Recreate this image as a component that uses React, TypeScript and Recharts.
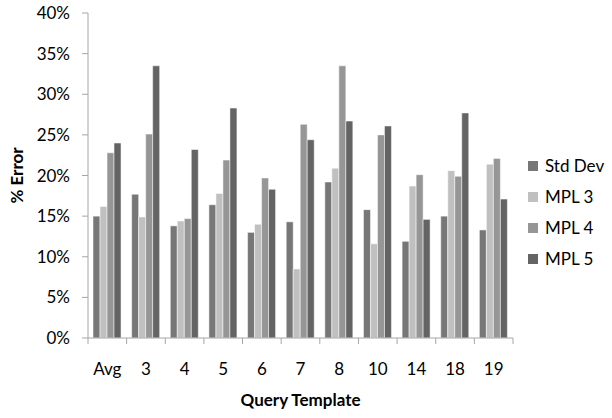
import { Bar, BarChart, Legend, XAxis, YAxis } from 'recharts';

const CATEGORIES = ['Avg', '3', '4', '5', '6', '7', '8', '10', '14', '18', '19'];
const STD_DEV = [15.0, 17.7, 13.8, 16.4, 13.0, 14.3, 19.2, 15.8, 11.9, 15.0, 13.3];
const MPL_3 = [16.2, 14.9, 14.4, 17.8, 14.0, 8.5, 20.9, 11.6, 18.7, 20.6, 21.4];
const MPL_4 = [22.8, 25.1, 14.7, 21.9, 19.7, 26.3, 33.5, 25.0, 20.1, 19.9, 22.1];
const MPL_5 = [24.0, 33.5, 23.2, 28.3, 18.3, 24.4, 26.7, 26.1, 14.6, 27.7, 17.1];
const Y_TICKS = [0, 5, 10, 15, 20, 25, 30, 35, 40];

const SERIES = [
  { key: 'stdDev', name: 'Std Dev', color: '#777777' },
  { key: 'mpl3', name: 'MPL 3', color: '#c0c0c0' },
  { key: 'mpl4', name: 'MPL 4', color: '#969696' },
  { key: 'mpl5', name: 'MPL 5', color: '#646464' },
];

const FONT = 'Lato, "Open Sans", sans-serif';
const AXIS_GRAY = '#a6a6a6';

const data = CATEGORIES.map((cat, i) => ({
  cat,
  stdDev: STD_DEV[i],
  mpl3: MPL_3[i],
  mpl4: MPL_4[i],
  mpl5: MPL_5[i],
}));

// Excel puts the category tick marks between groups, so draw them at the band edges.
function CategoryTick(props: any) {
  const { x, y, payload, index } = props;
  const half = payload.offset ?? 0;
  const last = index === CATEGORIES.length - 1;
  return (
    <g>
      <line x1={x - half} x2={x - half} y1={y - 8} y2={y - 2} stroke={AXIS_GRAY} />
      {last && <line x1={x + half} x2={x + half} y1={y - 8} y2={y - 2} stroke={AXIS_GRAY} />}
      <text x={x} y={y + 29} textAnchor="middle" fontSize={17} fill="#000" fontFamily={FONT}>
        {payload.value}
      </text>
    </g>
  );
}

function LegendBox() {
  return (
    <div style={{ fontFamily: FONT, fontSize: 17 }}>
      {SERIES.map((s) => (
        <div key={s.key} style={{ height: 31, display: 'flex', alignItems: 'center' }}>
          <span
            style={{ width: 10, height: 10, background: s.color, marginRight: 7, display: 'inline-block' }}
          />
          <span>{s.name}</span>
        </div>
      ))}
    </div>
  );
}

export default function App() {
  return (
    <div style={{ position: 'absolute', left: 0, top: 0, width: 612, height: 418, background: '#fff' }}>
      <BarChart
        width={612}
        height={418}
        data={data}
        margin={{ top: 13, right: 99, left: 0, bottom: 0 }}
        barCategoryGap="13%"
        barGap={0}
      >
        <XAxis
          dataKey="cat"
          stroke={AXIS_GRAY}
          tickLine={false}
          tick={<CategoryTick />}
          height={80}
          interval={0}
          label={{
            value: 'Query Template',
            position: 'insideBottom',
            offset: 12,
            fontSize: 17,
            fontWeight: 'bold',
            fill: '#000',
            fontFamily: FONT,
          }}
        />
        <YAxis
          width={88}
          domain={[0, 40]}
          ticks={Y_TICKS}
          interval={0}
          stroke={AXIS_GRAY}
          tickSize={6}
          tickFormatter={(v: number) => `${v}%`}
          tick={{ fontSize: 17, fill: '#000', fontFamily: FONT }}
          tickMargin={12}
          label={{
            value: '% Error',
            angle: -90,
            position: 'insideLeft',
            offset: 17,
            fontSize: 17,
            fontWeight: 'bold',
            fill: '#000',
            fontFamily: FONT,
            style: { textAnchor: 'middle' },
          }}
        />
        <Legend
          layout="vertical"
          align="center"
          verticalAlign="middle"
          content={<LegendBox />}
          wrapperStyle={{ left: 528, top: 150, width: 84, height: 124 }}
        />
        {SERIES.map((s) => (
          <Bar
            key={s.key}
            dataKey={s.key}
            name={s.name}
            fill={s.color}
            stroke="#ffffff"
            strokeWidth={0.5}
            isAnimationActive={false}
          />
        ))}
      </BarChart>
    </div>
  );
}
